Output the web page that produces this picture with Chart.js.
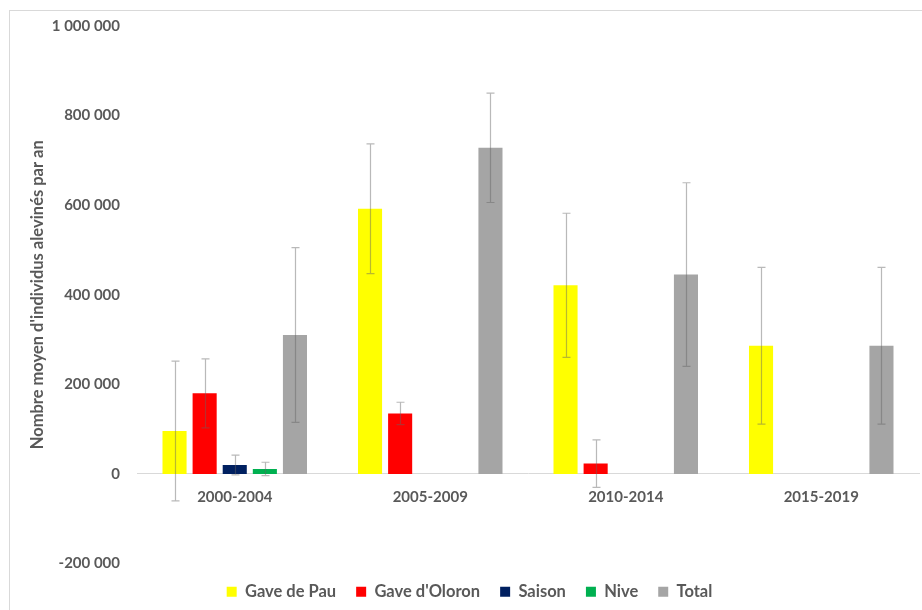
<!DOCTYPE html>
<html>
<head>
<meta charset="utf-8">
<script src="https://cdn.jsdelivr.net/npm/chart.js@4/dist/chart.umd.min.js"></script>
<style>
  html, body { margin: 0; padding: 0; background: #ffffff; }
  #wrap { width: 922px; height: 610px; position: relative; }
</style>
</head>
<body>
<div id="wrap"><canvas id="c" width="922" height="610"></canvas></div>
<script>
// Periods (x categories)
const periods = ['2000-2004', '2005-2009', '2010-2014', '2015-2019'];

// Mean number of fry stocked per year, per river, with standard deviation
const gaveDePau     = [96000, 592000, 421000, 286000];
const gaveDePauSd   = [156000, 145000, 161000, 175000];
const gaveOloron    = [180000, 135000, 23000, null];
const gaveOloronSd  = [77000, 25000, 53000, null];
const saison        = [20000, null, null, null];
const saisonSd      = [22000, null, null, null];
const nive          = [11000, null, null, null];
const niveSd        = [15000, null, null, null];
const total         = [310000, 728000, 445000, 286000];
const totalSd       = [195000, 122000, 205000, 175000];

// Y axis range and step
const yMin = -200000;
const yMax = 1000000;
const yStep = 200000;

const textColor = '#595959';
const fontFamily = 'Lato, "Open Sans", "Liberation Sans", sans-serif';

function formatThousands(v) {
  const s = String(Math.abs(v)).replace(/\B(?=(\d{3})+(?!\d))/g, ' ');
  return (v < 0 ? '-' : '') + s;
}

// Outer frame around the chart
const framePlugin = {
  id: 'frame',
  beforeDraw(chart) {
    const ctx = chart.ctx;
    ctx.save();
    ctx.fillStyle = '#ffffff';
    ctx.fillRect(0, 0, chart.width, chart.height);
    ctx.strokeStyle = '#d9d9d9';
    ctx.lineWidth = 1;
    ctx.strokeRect(9.5, 10.5, chart.width + 20, chart.height + 20);
    ctx.restore();
  }
};

// Symmetric error bars (± standard deviation) drawn over each bar
const errorBarPlugin = {
  id: 'errorBars',
  afterDatasetsDraw(chart) {
    const ctx = chart.ctx;
    const yScale = chart.scales.y;
    ctx.save();
    ctx.strokeStyle = 'rgba(100,100,100,0.45)';
    ctx.lineWidth = 1.2;
    chart.data.datasets.forEach((ds, di) => {
      const meta = chart.getDatasetMeta(di);
      if (!ds.errors || meta.hidden) return;
      ds.errors.forEach((err, i) => {
        const v = ds.data[i];
        if (v == null || err == null) return;
        const bar = meta.data[i];
        const x = Math.round(bar.x) + 0.5;
        const yTop = yScale.getPixelForValue(v + err);
        const yBot = yScale.getPixelForValue(v - err);
        const cap = 4;
        ctx.beginPath();
        ctx.moveTo(x, yTop);
        ctx.lineTo(x, yBot);
        ctx.moveTo(x - cap, yTop);
        ctx.lineTo(x + cap, yTop);
        ctx.moveTo(x - cap, yBot);
        ctx.lineTo(x + cap, yBot);
        ctx.stroke();
      });
    });
    ctx.restore();
  }
};

const makeSet = (label, data, errors, color) => ({
  label, data, errors,
  backgroundColor: color,
  borderWidth: 0,
  categoryPercentage: 0.77,
  barPercentage: 0.8
});

new Chart(document.getElementById('c'), {
  type: 'bar',
  data: {
    labels: periods,
    datasets: [
      makeSet('Gave de Pau', gaveDePau, gaveDePauSd, '#ffff00'),
      makeSet("Gave d'Oloron", gaveOloron, gaveOloronSd, '#ff0000'),
      makeSet('Saison', saison, saisonSd, '#002060'),
      makeSet('Nive', nive, niveSd, '#00b050'),
      makeSet('Total', total, totalSd, '#a5a5a5')
    ]
  },
  options: {
    responsive: false,
    devicePixelRatio: 1,
    animation: false,
    layout: { padding: { left: 20, right: 3, top: 23, bottom: 0 } },
    plugins: {
      legend: {
        position: 'bottom',
        labels: {
          boxWidth: 10,
          boxHeight: 10,
          padding: 20,
          color: textColor,
          font: { family: fontFamily, size: 16.5, weight: 'bold' }
        }
      },
      tooltip: { enabled: false }
    },
    scales: {
      x: {
        position: { y: 0 },
        grid: { display: false, drawTicks: false },
        border: { display: true, color: '#d9d9d9', width: 1 },
        ticks: {
          color: textColor,
          padding: 14,
          font: { family: fontFamily, size: 15, weight: 'bold' }
        },
        afterFit(scale) { scale.height = 0; }
      },
      y: {
        min: yMin,
        max: yMax,
        grid: { display: false, drawTicks: false },
        border: { display: false },
        ticks: {
          stepSize: yStep,
          padding: 17,
          color: textColor,
          font: { family: fontFamily, size: 15, weight: 'bold' },
          callback: (v) => formatThousands(v)
        },
        title: {
          display: true,
          text: "Nombre moyen d'individus alevinés par an",
          color: textColor,
          padding: { top: 8, bottom: 0 },
          font: { family: fontFamily, size: 16.5, weight: 'bold' }
        },
        afterFit(scale) { scale.width = 117; }
      }
    }
  },
  plugins: [framePlugin, errorBarPlugin]
});
</script>
</body>
</html>
